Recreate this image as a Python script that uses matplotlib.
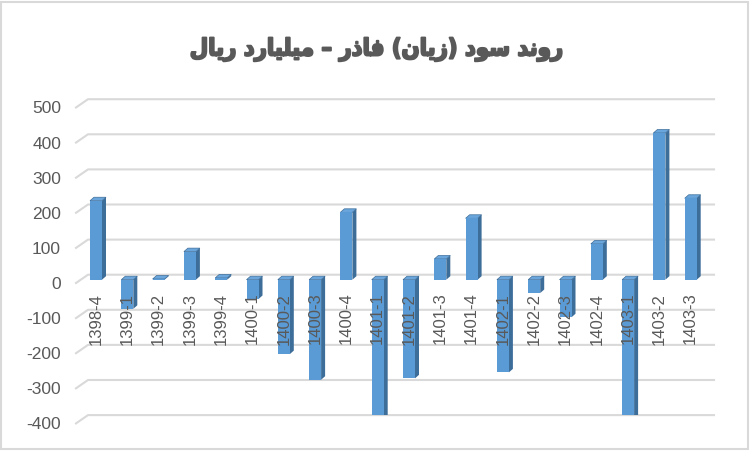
"""
Quarterly profit (loss) of Fazar, billion rials - Excel style 3D column chart.
"""

import matplotlib

matplotlib.use("Agg")
import matplotlib.pyplot as plt
import matplotlib.patheffects as pe
from matplotlib.patches import Polygon, Rectangle
from matplotlib.transforms import ScaledTranslation

# data
quarters = [
    "1398-4", "1399-1", "1399-2", "1399-3", "1399-4",
    "1400-1", "1400-2", "1400-3", "1400-4",
    "1401-1", "1401-2", "1401-3", "1401-4",
    "1402-1", "1402-2", "1402-3", "1402-4",
    "1403-1", "1403-2", "1403-3",
]
profit = [225, -83, 2, 80, 5, -55, -212, -285, 192, -430,
          -281, 59, 175, -264, -38, -107, 102, -415, 418, 232]
y_ticks = [500, 400, 300, 200, 100, 0, -100, -200, -300, -400]
title = "روند سود (زیان) فاذر – میلیارد ریال"

FRONT = "#5B9BD5"
SIDE = "#3D6D99"
TOP = "#6AA6DC"
GRID = "#D9D9D9"
TEXT = "#595959"

# Persian shaping (matplotlib does no contextual shaping / bidi)
FORMS = {  # isolated, final, initial, medial
    "ا": ("\uFE8D", "\uFE8E", None, None),
    "د": ("\uFEA9", "\uFEAA", None, None),
    "ذ": ("\uFEAB", "\uFEAC", None, None),
    "ر": ("\uFEAD", "\uFEAE", None, None),
    "ز": ("\uFEAF", "\uFEB0", None, None),
    "و": ("\uFEED", "\uFEEE", None, None),
    "س": ("\uFEB1", "\uFEB2", "\uFEB3", "\uFEB4"),
    "ف": ("\uFED1", "\uFED2", "\uFED3", "\uFED4"),
    "ل": ("\uFEDD", "\uFEDE", "\uFEDF", "\uFEE0"),
    "م": ("\uFEE1", "\uFEE2", "\uFEE3", "\uFEE4"),
    "ن": ("\uFEE5", "\uFEE6", "\uFEE7", "\uFEE8"),
    "ی": ("\uFEEF", "\uFEF0", "\uFEF3", "\uFEF4"),
}


def shape_rtl(text):
    """Return the text in visual order with contextual glyph forms."""
    out = []
    for i, ch in enumerate(text):
        if ch not in FORMS:
            out.append(ch)
            continue
        prev = text[i - 1] if i > 0 else ""
        nxt = text[i + 1] if i + 1 < len(text) else ""
        join_prev = prev in FORMS and FORMS[prev][2] is not None
        join_next = FORMS[ch][2] is not None and nxt in FORMS
        iso, fin, ini, med = FORMS[ch]
        if join_prev and join_next:
            out.append(med)
        elif join_prev:
            out.append(fin)
        elif join_next:
            out.append(ini)
        else:
            out.append(iso)
    swap = {"(": ")", ")": "("}
    return "".join(swap.get(c, c) for c in reversed(out))


# geometry (pixels at dpi 100)
W, H = 752, 452
slot_px = 31.3  # one category
ppu = 0.351  # pixels per unit
x0_px = 96.0  # centre of first bar
zero_px = 280.7  # zero line of bar plane
y_lo, y_hi = -386, 560

fig = plt.figure(figsize=(W / 100, H / 100), dpi=100)
ax_left = x0_px - 0.5 * slot_px
ax_bottom = zero_px - y_lo * ppu
ax_top = zero_px - y_hi * ppu
ax = fig.add_axes([ax_left / W, (H - ax_bottom) / H,
                   len(quarters) * slot_px / W, (ax_bottom - ax_top) / H])
ax.set_xlim(-0.5, len(quarters) - 0.5)
ax.set_ylim(y_lo, y_hi)
ax.axis("off")

# back wall gridlines with the little side-wall slant
back_dy = 5 / ppu
for v in y_ticks:
    ax.plot([(76 - x0_px) / slot_px, (88 - x0_px) / slot_px, (714 - x0_px) / slot_px],
            [v + back_dy - 8.3 / ppu, v + back_dy, v + back_dy],
            color=GRID, lw=1.5, clip_on=False, zorder=1)

# y labels
off = ScaledTranslation(-19.3 / 100, -3.8 / 100, fig.dpi_scale_trans)
for v in y_ticks:
    ax.text(0, v, str(v), transform=ax.get_yaxis_transform() + off,
            ha="right", va="center", fontsize=12.5, color=TEXT,
            family="Liberation Sans", clip_on=False)

# 3D bars
bw = 12 / slot_px
dx = 4 / slot_px
dy = 3.5 / ppu
for i, v in enumerate(profit):
    xl, xr = i - bw / 2, i + bw / 2
    top = max(v, 0)
    bot = min(v, 0)
    ax.add_patch(Polygon([(xr, bot), (xr, top), (xr + dx, top + dy), (xr + dx, bot + dy)],
                         closed=True, facecolor=SIDE, edgecolor="none", zorder=2))
    ax.add_patch(Polygon([(xl, top), (xr, top), (xr + dx, top + dy), (xl + dx, top + dy)],
                         closed=True, facecolor=TOP, edgecolor=SIDE, lw=0.5, zorder=2))
    ax.bar(i, v, width=bw, color=FRONT, edgecolor="none", zorder=3)

# category labels just under the zero line
lab_off = ScaledTranslation(0, -12 / 100, fig.dpi_scale_trans)
for i, q in enumerate(quarters):
    ax.text(i, 0, q, transform=ax.transData + lab_off, rotation=90,
            ha="center", va="top", fontsize=12, color=TEXT,
            family="Liberation Sans", zorder=5, clip_on=False)

fig.text(0.5, 1 - 50 / H, shape_rtl(title), ha="center", va="center",
         fontsize=17, fontweight="bold", color=TEXT, family="DejaVu Sans",
         fontstretch="condensed",
         path_effects=[pe.withStroke(linewidth=1.4, foreground=TEXT)])

# chart area border
fig.patches.append(Rectangle((1.5 / W, 2 / H), 746 / W, 447 / H, transform=fig.transFigure,
                             fill=False, edgecolor=GRID, lw=1.5))

fig.savefig("out.png", dpi=100, facecolor="white")
